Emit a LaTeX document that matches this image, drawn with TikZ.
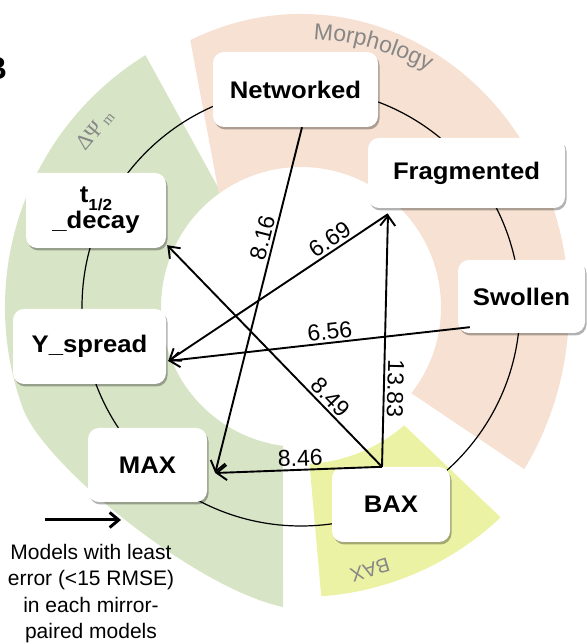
\documentclass[tikz,border=0pt]{standalone}
\usepackage{graphicx}
\usepackage{fontspec}
\setmainfont{Liberation Sans}
\newfontfamily\serifgreek{Liberation Serif}
\usetikzlibrary{arrows.meta,shadows,decorations.text}
\definecolor{bandgreen}{RGB}{215,228,198}
\definecolor{bandpeach}{RGB}{246,225,210}
\definecolor{bandyellow}{RGB}{236,242,164}
\definecolor{labelgray}{RGB}{135,135,135}
\newcommand{\boxtxt}[1]{\scalebox{1.07}[1]{#1}}
\begin{document}
\begin{tikzpicture}[x=1pt,y=1pt,
  mbox/.style={rounded corners=11pt, fill=white, inner sep=0pt,
    font=\bfseries\fontsize{24}{26}\selectfont, align=center,
    drop shadow={shadow xshift=1.5pt, shadow yshift=-2.5pt, opacity=0.3, fill=black}},
  conn/.style={line width=1.9pt, -{Straight Barb[length=10pt,width=15pt]}},
  num/.style={font=\fontsize{23}{23}\selectfont, inner sep=2.5pt},
  bandlabel/.style={text=labelgray}]
\useasboundingbox (0,0) rectangle (586,644);
\coordinate (C) at (301,337);
% coloured bands
\begin{scope}[shift={(C)}]
  \fill[bandgreen] (121.7:296) arc[start angle=121.7,end angle=200,radius=296]
    .. controls (-257.7,-157.6) and (-106,-281.4) .. (-18,-300)
    -- (262.6:140) arc[start angle=262.6,end angle=125,radius=140] -- cycle;
  \fill[bandpeach] (114.4:268 and 293) arc[start angle=114.4,end angle=-33.6,x radius=268,y radius=293]
    -- (-38:140) arc[start angle=-38,end angle=125.9,radius=140] -- cycle;
  \fill[bandyellow] (-86:290) arc[start angle=-86,end angle=-46.5,radius=290]
    -- (-48.9:157) arc[start angle=-48.9,end angle=-86.9,radius=157] -- cycle;
\end{scope}
% band labels
\path[decorate, decoration={text along path, text align=center,
  text={|\color{labelgray}\fontsize{23}{23}\selectfont|Morphology}}]
  (C) ++(102:268) arc[start angle=102, end angle=47, radius=268];
\node[bandlabel, rotate=50, font=\serifgreek\fontsize{22}{22}\selectfont] (psi) at (95,514)
  {ΔΨ\,\raisebox{-1pt}{\fontsize{15}{15}\selectfont m}};
\node[bandlabel, rotate=197, font=\fontsize{20}{20}\selectfont] (baxlab) at (370,74) {BAX};
% circle
\draw[line width=1.2pt] (C) circle[radius=219];
% boxes
\node[mbox, minimum width=165pt, minimum height=75pt] (net) at (295.5,554.5) {\boxtxt{Networked}};
\node[mbox, minimum width=197pt, minimum height=70pt] (frag) at (466.5,471) {\boxtxt{Fragmented}};
\node[mbox, minimum width=127pt, minimum height=73pt] (swol) at (521.5,347.5) {\boxtxt{Swollen}};
\node[mbox, minimum width=140pt, minimum height=75pt] (tdec) at (96,433.5)
  {\boxtxt{t\raisebox{-0.3em}{\fontsize{16}{16}\selectfont 1/2}}\\\boxtxt{\_decay}};
\node[mbox, minimum width=153pt, minimum height=75pt] (yspr) at (89.5,297.5) {\boxtxt{Y\_spread}};
\node[mbox, minimum width=119pt, minimum height=74pt] (max) at (147.5,179) {\boxtxt{MAX}};
\node[mbox, minimum width=118pt, minimum height=75pt] (bax) at (391,139.5) {\boxtxt{BAX}};
% connector ends
\coordinate (mtip) at ([xshift=8pt,yshift=-8pt]max.east);
\coordinate (btail) at ([xshift=-9pt]bax.north);
\coordinate (ftip) at ([xshift=-78.5pt,yshift=-6pt]frag.south);
\coordinate (ytip) at ([xshift=2pt,yshift=-14.5pt]yspr.east);
\coordinate (ttip) at ([xshift=1pt,yshift=3pt]tdec.south east);
\coordinate (stail) at ([xshift=12pt,yshift=6pt]swol.south west);
\coordinate (ntail) at ([xshift=6.5pt]net.south);
% connectors
\draw[conn] (ntail) -- (mtip) node[num, sloped, above, pos=0.327] (l816) {8.16};
\draw[conn] (btail) -- (mtip) node[num, sloped, above, pos=0.488] (l846) {8.46};
\draw[conn] (btail) -- (ttip) node[num, sloped, above, pos=0.279] (l849) {8.49};
\draw[conn] (btail) -- (ftip) node[num, rotate=-91.4, anchor=south, pos=0.312] (l1383) {13.83};
\draw[conn] (ftip) -- (ytip) node[num, sloped, above, pos=0.236] (l669) {6.69};
\draw[conn] (stail) -- (ytip) node[num, sloped, above, pos=0.46] (l656) {6.56};
% legend
\coordinate (la) at (45,124);
\coordinate (lb) at (121,124);
\draw[line width=3pt, -{Straight Barb[length=9pt,width=15pt]}] (la) -- (lb);
\node[font=\fontsize{21}{26.5}\selectfont, align=center, anchor=north, inner sep=0pt] (note) at (91,100)
  {Models with least\\error (<15 RMSE)\\in each mirror-\\paired models};
% panel letter (cut by the page edge)
\begin{scope}
  \clip (0,0) rectangle (586,644);
  \node[font=\bfseries\fontsize{32}{32}\selectfont] (panel) at (-4.5,575) {B};
\end{scope}
\end{tikzpicture}
\end{document}
